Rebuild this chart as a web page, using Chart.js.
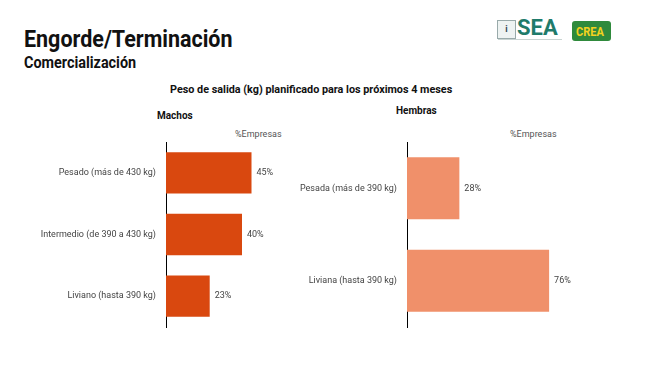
<!DOCTYPE html>
<html>
<head>
<meta charset="utf-8">
<script src="https://cdn.jsdelivr.net/npm/chart.js@4"></script>
<style>
  html, body { margin: 0; padding: 0; background: #fff; }
  body { width: 652px; height: 390px; position: relative; overflow: hidden; font-family: Roboto, sans-serif; }
  .txt { position: absolute; white-space: nowrap; color: #111; transform-origin: left top; }
  #title { left: 24px; top: 25px; font-size: 24px; font-weight: bold; transform: scaleX(0.895); }
  #subtitle { left: 24px; top: 53px; font-size: 16px; font-weight: bold; transform: scaleX(0.9); }
  #chartTitle { left: 170px; top: 82px; font-size: 11.5px; font-weight: bold; transform: scaleX(0.94); }
  .panel { font-size: 10px; font-weight: bold; }
  .unit { font-size: 9px; color: #555; }
  canvas { position: absolute; }
  #seaIcon { position: absolute; left: 497px; top: 20px; width: 17px; height: 17px; border: 1px solid #9aa; background: #eef3f2; font: bold 9px Roboto; color: #345; text-align: center; line-height: 17px; }
  #seaText { position: absolute; left: 517px; top: 15px; font: bold 22px Roboto, sans-serif; color: #1f7b6b; }
  #seaTag { position: absolute; left: 498px; top: 39px; width: 64px; height: 1px; background: #c9d4d2; }
  #crea { position: absolute; left: 572px; top: 21px; width: 39px; height: 20px; background: #2f8a3c; border-radius: 3px; color: #f3d21f; overflow: hidden; }
  #crea span { position: absolute; left: 4px; top: 3px; font: bold 13px Roboto, sans-serif; transform: scaleX(0.85); transform-origin: left top; }
</style>
</head>
<body>
<div id="title" class="txt">Engorde/Terminación</div>
<div id="subtitle" class="txt">Comercialización</div>
<div id="chartTitle" class="txt">Peso de salida (kg) planificado para los próximos 4 meses</div>
<div class="txt panel" style="left:157px; top:110px;">Machos</div>
<div class="txt panel" style="left:396px; top:105px;">Hembras</div>
<div class="txt unit" style="left:235px; top:129px;">%Empresas</div>
<div class="txt unit" style="left:510px; top:129px;">%Empresas</div>
<div id="seaIcon">i</div>
<div id="seaText">SEA</div>
<div id="seaTag"></div>
<div id="crea"><span>CREA</span></div>

<canvas id="machos" width="330" height="240" style="left:0; top:100px;"></canvas>
<canvas id="hembras" width="372" height="240" style="left:280px; top:100px;"></canvas>

<script>
// data
const machosLabels = ['Pesado (más de 430 kg)', 'Intermedio (de 390 a 430 kg)', 'Liviano (hasta 390 kg)'];
const machosValues = [45, 40, 23];
const hembrasLabels = ['Pesada (más de 390 kg)', 'Liviana (hasta 390 kg)'];
const hembrasValues = [28, 76];

// writes "45%" next to each bar
const valueLabels = {
    id: 'valueLabels',
    afterDatasetsDraw(chart) {
        const ctx = chart.ctx;
        ctx.save();
        ctx.font = '9px Roboto';
        ctx.fillStyle = '#444';
        ctx.textBaseline = 'middle';
        ctx.textAlign = 'left';
        chart.getDatasetMeta(0).data.forEach((bar, i) => {
            ctx.fillText(chart.data.datasets[0].data[i] + '%', bar.x + 5, bar.y);
        });
        ctx.restore();
    }
};

function makeChart(canvas, labels, values, color, axisLeft, maxX, padRight) {
    return new Chart(canvas, {
        type: 'bar',
        data: {
            labels: labels,
            datasets: [{
                data: values,
                backgroundColor: color,
                borderWidth: 0,
                barPercentage: 0.67,
                categoryPercentage: 1
            }]
        },
        options: {
            indexAxis: 'y',
            responsive: false,
            animation: false,
            layout: { padding: { top: 42, bottom: 13, left: 0, right: padRight } },
            plugins: { legend: { display: false }, tooltip: { enabled: false } },
            scales: {
                x: { display: false, min: 0, max: maxX },
                y: {
                    grid: { display: false },
                    border: { display: true, color: '#000', width: 1 },
                    ticks: { color: '#444', font: { family: 'Roboto', size: 9 }, padding: 2 },
                    afterFit: scale => { scale.width = axisLeft; }
                }
            }
        },
        plugins: [valueLabels]
    });
}

makeChart(document.getElementById('machos'), machosLabels, machosValues, '#d9480f', 166, 80, 12);
makeChart(document.getElementById('hembras'), hembrasLabels, hembrasValues, '#f0906a', 127, 100, 58);
</script>
</body>
</html>
